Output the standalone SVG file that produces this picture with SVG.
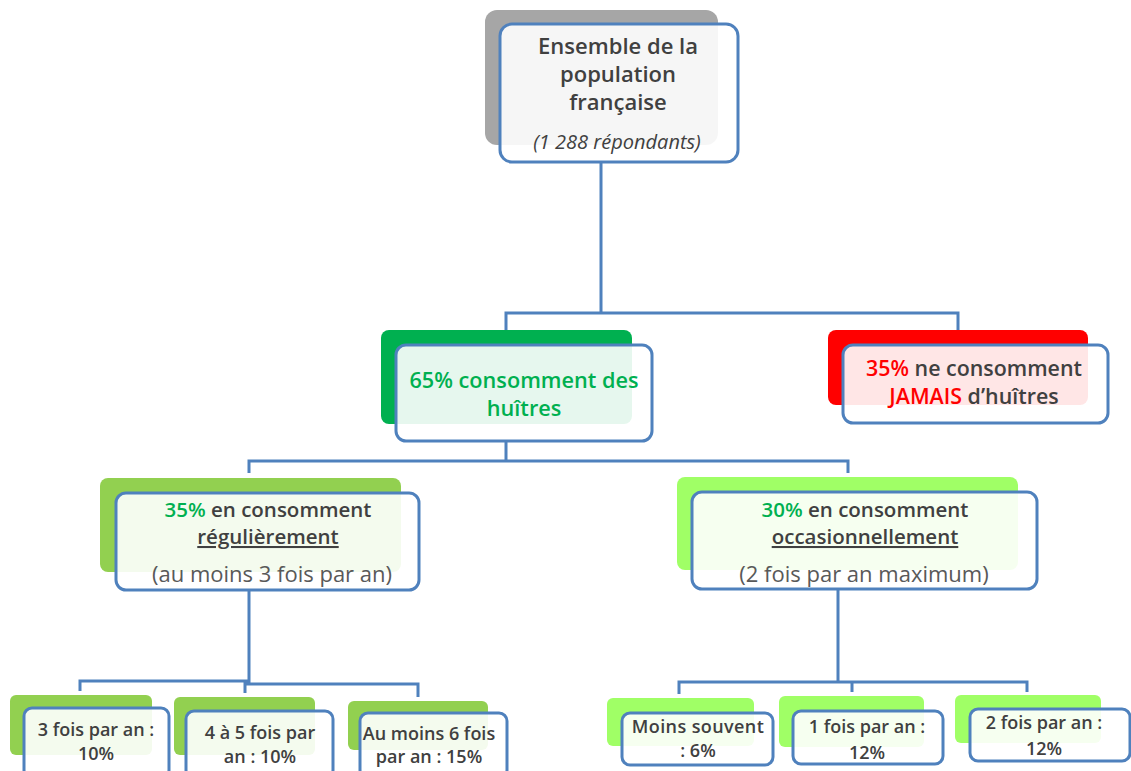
<svg xmlns="http://www.w3.org/2000/svg" width="1131" height="771" viewBox="0 0 1131 771">
<style>
.box{fill:#fff;fill-opacity:0.9;stroke:#4f81bd;stroke-width:3}
.con{fill:none;stroke:#4f81bd;stroke-width:3}
text{font-family:"Open Sans","Liberation Sans",sans-serif;fill:#404040;text-anchor:middle}
.b{font-weight:600}
.g{fill:#00b050}
.r{fill:#ff0000}
.u{text-decoration:underline}
.s{font-size:18px}
.m{font-size:20.5px}
.p{font-size:22px;fill:#595959}
</style>
<rect width="1131" height="771" fill="#fff"/>
<g id="connectors">
<path class="con" d="M601 162V313M506 330V313H958V330"/>
<path class="con" d="M506 441V461M249 473V461H848V473"/>
<path class="con" d="M249 590V683M80 691V681H249M245 693V684H418V697"/>
<path class="con" d="M838 589V682M679 694V682H1027V692M852 682V692"/>
</g>
<g id="n-top">
<rect x="485" y="10" width="233" height="135" rx="12" fill="#a6a6a6"/>
<rect class="box" x="500" y="24" width="238" height="138" rx="12"/>
<text class="b" x="618" y="54" font-size="22">Ensemble de la</text>
<text class="b" x="618" y="82" font-size="22">population</text>
<text class="b" x="618" y="110" font-size="22">française</text>
<text x="617" y="149" font-size="20" font-style="italic" fill="#595959">(1 288 répondants)</text>
</g>
<g id="n-65">
<rect x="381" y="330" width="251" height="94" rx="8" fill="#00b050"/>
<rect class="box" x="396" y="345" width="256" height="96" rx="10"/>
<text class="b g" x="524" y="388" font-size="21.7">65% consomment des</text>
<text class="b g" x="524" y="416" font-size="21.7">huîtres</text>
</g>
<g id="n-35">
<rect x="828" y="330" width="260" height="75" rx="8" fill="#ff0000"/>
<rect class="box" x="843" y="345" width="265" height="78" rx="10"/>
<text class="b" x="974" y="376" font-size="21.4"><tspan class="r">35%</tspan> ne consomment</text>
<text class="b" x="974" y="404" font-size="21.4"><tspan class="r">JAMAIS</tspan> d’huîtres</text>
</g>
<g id="n-reg">
<rect x="100" y="478" width="301" height="94" rx="8" fill="#92d050"/>
<rect class="box" x="116" y="493" width="303" height="97" rx="10"/>
<text class="b m" x="268" y="517"><tspan class="g">35%</tspan> en consomment</text>
<text class="b u m" x="268" y="544">régulièrement</text>
<text class="p" x="272" y="582">(au moins 3 fois par an)</text>
</g>
<g id="n-occ">
<rect x="677" y="477" width="341" height="93" rx="8" fill="#a0ff66"/>
<rect class="box" x="692" y="492" width="345" height="97" rx="10"/>
<text class="b m" x="865" y="517"><tspan class="g">30%</tspan> en consomment</text>
<text class="b u m" x="865" y="544">occasionnellement</text>
<text class="p" x="864" y="582">(2 fois par an maximum)</text>
</g>
<g id="n-3">
<rect x="10" y="695" width="142" height="60" rx="6" fill="#92d050"/>
<rect class="box" x="24" y="708" width="145" height="70" rx="8"/>
<text class="b s" x="96" y="736">3 fois par an :</text>
<text class="b s" x="96" y="760">10%</text>
</g>
<g id="n-45">
<rect x="174" y="697" width="141" height="58" rx="6" fill="#92d050"/>
<rect class="box" x="186" y="711" width="147" height="67" rx="8"/>
<text class="b s" x="260" y="739">4 à 5 fois par</text>
<text class="b s" x="260" y="763">an : 10%</text>
</g>
<g id="n-6">
<rect x="348" y="701" width="140" height="49" rx="6" fill="#92d050"/>
<rect class="box" x="360" y="713" width="147" height="65" rx="8"/>
<text class="b s" x="429" y="740">Au moins 6 fois</text>
<text class="b s" x="429" y="763">par an : 15%</text>
</g>
<g id="n-moins">
<rect x="607" y="698" width="147" height="48" rx="6" fill="#a0ff66"/>
<rect class="box" x="622" y="713" width="151" height="52" rx="8"/>
<text class="b s" x="698" y="733" letter-spacing="0.4">Moins souvent</text>
<text class="b s" x="698" y="757">: 6%</text>
</g>
<g id="n-1">
<rect x="779" y="696" width="145" height="51" rx="6" fill="#a0ff66"/>
<rect class="box" x="793" y="711" width="150" height="53" rx="8"/>
<text class="b s" x="867" y="733">1 fois par an :</text>
<text class="b s" x="867" y="759">12%</text>
</g>
<g id="n-2">
<rect x="955" y="695" width="146" height="48" rx="6" fill="#a0ff66"/>
<rect class="box" x="970" y="709" width="160" height="52" rx="8"/>
<text class="b s" x="1044" y="729">2 fois par an :</text>
<text class="b s" x="1044" y="755">12%</text>
</g>
</svg>
